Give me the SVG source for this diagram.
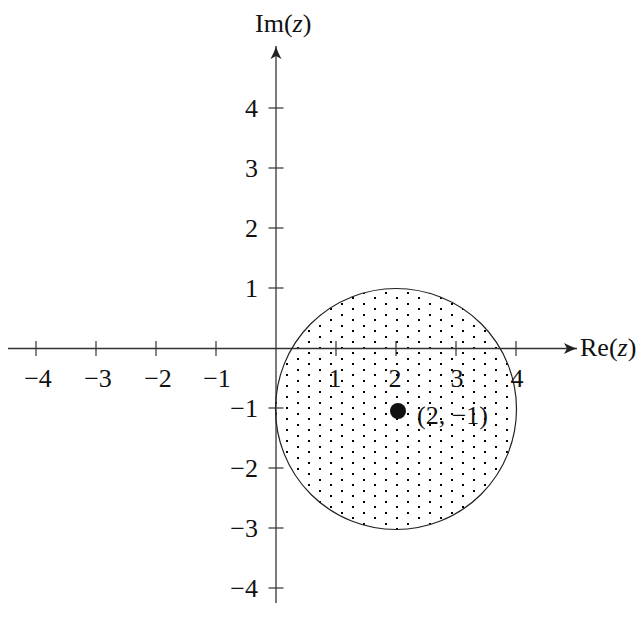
<svg xmlns="http://www.w3.org/2000/svg" width="642" height="630" viewBox="0 0 642 630">
  <style>
    .axis { stroke: #333; stroke-width: 1.3; fill: none; }
    .tick { stroke: #333; stroke-width: 1.2; }
    text { font-family: "Liberation Serif", "Times New Roman", serif; font-size: 26px; fill: #111; }
    .xl { text-anchor: middle; }
    .yl { text-anchor: end; }
    .dot { fill: #000; }
  </style>
  <defs>
    <pattern id="dots" patternUnits="userSpaceOnUse" x="418" y="440" width="22" height="11">
      <rect class="dot" x="0" y="0" width="2" height="2"/>
      <rect class="dot" x="11" y="6" width="2" height="2"/>
    </pattern>
    <marker id="arr" markerWidth="16" markerHeight="12" refX="13" refY="6" orient="auto" markerUnits="userSpaceOnUse">
      <path d="M13,6 C9,5 5,3 0,0.5 L3,6 L0,11.5 C5,9 9,7 13,6 Z" fill="#222"/>
    </marker>
  </defs>

  <g id="region">
    <circle cx="396" cy="409" r="120.5" fill="url(#dots)" stroke="none"/>
  </g>

  <g id="connectors">
    <line class="axis" x1="8" y1="348.5" x2="577" y2="348.5" marker-end="url(#arr)"/>
    <line class="axis" x1="276" y1="603" x2="276" y2="46" marker-end="url(#arr)"/>
  </g>

  <g id="circle-outline">
    <circle cx="396" cy="409" r="120.5" fill="none" stroke="#222" stroke-width="1.2"/>
  </g>

  <g id="ticks">
    <line class="tick" x1="36" y1="341" x2="36" y2="356"/>
    <line class="tick" x1="96" y1="341" x2="96" y2="356"/>
    <line class="tick" x1="156" y1="341" x2="156" y2="356"/>
    <line class="tick" x1="216" y1="341" x2="216" y2="356"/>
    <line class="tick" x1="336" y1="341" x2="336" y2="356"/>
    <line class="tick" x1="396" y1="341" x2="396" y2="356"/>
    <line class="tick" x1="456" y1="341" x2="456" y2="356"/>
    <line class="tick" x1="516" y1="341" x2="516" y2="356"/>
    <line class="tick" x1="268.5" y1="108" x2="283.5" y2="108"/>
    <line class="tick" x1="268.5" y1="168" x2="283.5" y2="168"/>
    <line class="tick" x1="268.5" y1="228" x2="283.5" y2="228"/>
    <line class="tick" x1="268.5" y1="288" x2="283.5" y2="288"/>
    <line class="tick" x1="268.5" y1="408" x2="283.5" y2="408"/>
    <line class="tick" x1="268.5" y1="468" x2="283.5" y2="468"/>
    <line class="tick" x1="268.5" y1="528" x2="283.5" y2="528"/>
    <line class="tick" x1="268.5" y1="588" x2="283.5" y2="588"/>
  </g>

  <g id="x-labels">
    <text class="xl" x="38" y="387">−4</text>
    <text class="xl" x="98" y="387">−3</text>
    <text class="xl" x="158" y="387">−2</text>
    <text class="xl" x="217" y="387">−1</text>
    <text class="xl" x="335" y="387">1</text>
    <text class="xl" x="395" y="387">2</text>
    <text class="xl" x="457" y="387">3</text>
    <text class="xl" x="517" y="387">4</text>
  </g>

  <g id="y-labels">
    <text class="yl" x="258" y="117">4</text>
    <text class="yl" x="258" y="177">3</text>
    <text class="yl" x="258" y="237">2</text>
    <text class="yl" x="258" y="297">1</text>
    <text class="yl" x="258" y="417">−1</text>
    <text class="yl" x="258" y="477">−2</text>
    <text class="yl" x="258" y="537">−3</text>
    <text class="yl" x="258" y="597">−4</text>
  </g>

  <g id="axis-titles">
    <text x="255" y="32">Im(<tspan font-style="italic">z</tspan>)</text>
    <text x="580" y="356">Re(<tspan font-style="italic">z</tspan>)</text>
  </g>

  <g id="point">
    <circle cx="398" cy="411" r="8" fill="#111"/>
    <text x="417" y="424">(2, −1)</text>
  </g>
</svg>
